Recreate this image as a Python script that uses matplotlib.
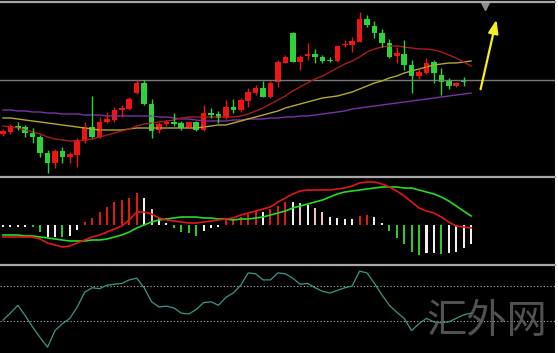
import numpy as np
import matplotlib
matplotlib.use("Agg")
import matplotlib.pyplot as plt
from matplotlib.lines import Line2D
from matplotlib.patches import Rectangle

plt.rcParams["font.family"] = ["Noto Sans CJK SC", "DejaVu Sans"]

# ---- candles (price units, bottom of panel = 0) ----
opens = [43, 45, 51, 50, 44, 40, 24, 14, 26, 20, 22, 36, 50, 40, 55, 57, 67, 68, 84, 94,
         73, 47, 53, 55, 54, 49, 55, 47, 64, 63, 59, 70, 67, 76, 84, 89, 80, 95, 114, 144,
         115, 121, 123, 120, 117, 116, 132, 132, 135, 158, 151, 144, 134, 121, 123, 112, 101, 104, 115, 102,
         96, 91, 97, 96]
closes = [46, 51, 49, 44, 40, 24, 14, 26, 20, 23, 37, 50, 40, 55, 58, 67, 69, 78, 94, 73,
          46, 53, 55, 53, 49, 55, 47, 64, 62, 59, 70, 67, 77, 85, 89, 80, 94, 115, 120, 115,
          120, 123, 120, 116, 116, 131, 133, 136, 158, 152, 144, 134, 120, 124, 112, 101, 105, 114, 104, 95,
          91, 94, 95, 97]
highs = [48, 53, 55, 52, 49, 42, 27, 28, 30, 25, 39, 55, 81, 60, 65, 70, 72, 80, 97, 97,
         78, 55, 57, 64, 56, 56, 56, 72, 69, 66, 77, 78, 79, 89, 92, 96, 96, 117, 122, 145,
         122, 134, 128, 122, 120, 132, 137, 140, 165, 162, 156, 148, 138, 130, 137, 117, 109, 119, 117, 109,
         99, 95, 100, 97]
lows = [41, 43, 47, 40, 34, 20, 4, 9, 14, 14, 10, 34, 39, 39, 54, 55, 60, 67, 83, 72,
        39, 44, 51, 51, 47, 48, 46, 46, 59, 54, 58, 64, 65, 70, 82, 80, 79, 90, 114, 115,
        107, 117, 114, 114, 115, 115, 130, 125, 135, 150, 139, 130, 119, 114, 107, 84, 98, 103, 94, 82,
        88, 90, 91, 96]

ma_short = [51, 50, 49, 47, 45, 43, 40, 38, 37, 36, 36, 37, 38, 40, 42, 44, 46, 48, 51, 53,
            54, 55, 56, 57, 59, 60, 60, 60, 60, 60, 60, 60, 61, 63, 66, 69, 73, 77, 81, 86,
            90, 94, 98, 101, 105, 109, 113, 116, 120, 125, 128, 130, 131, 131, 130, 129, 128, 128, 127, 125,
            122, 119, 115, 111]
ma_mid = [59, 59, 58, 57, 56, 55, 54, 53, 52, 51, 50, 49, 48, 47, 47, 47, 47, 48, 49, 49,
          49, 49, 49, 49, 49, 49, 49, 50, 51, 52, 52, 54, 56, 58, 60, 62, 64, 66, 69, 71,
          73, 75, 77, 79, 80, 81, 83, 85, 88, 91, 94, 96, 99, 101, 104, 106, 108, 110, 112, 113,
          114, 114, 115, 116]
ma_long = [67, 67, 66, 66, 65, 65, 64, 64, 63, 63, 63, 62, 62, 62, 61, 61, 61, 61, 61, 61,
           61, 60, 60, 59, 58, 58, 57, 56, 56, 56, 56, 57, 57, 58, 58, 58, 59, 59, 60, 60,
           61, 61, 62, 63, 64, 65, 66, 68, 69, 70, 71, 72, 73, 74, 75, 76, 77, 78, 79, 80,
           81, 82, 83, 84]
ref_level = 97

# ---- MACD ----
macd_hist = [-2, -2, -2, -2, -2, -7, -12, -12, -12, -11, -5, 3, 7, 13, 18, 23, 25, 27, 32, 27,
             16, 7, 2, -3, -7, -8, -11, -6, -3, -2, 6, 5, 8, 11, 14, 13, 16, 19, 23, 23,
             22, 20, 17, 13, 8, 7, 6, 6, 9, 10, 8, 2, -6, -13, -19, -27, -30, -28, -28, -29,
             -28, -27, -23, -19]
hist_kind = list("wwwwggwwgwwrrrrrrrrwpwwggggwwwrrrrrwrrrwpwppwwwwrrwwgggggwwgwwww")
dif = [-12, -12, -12, -12, -12, -14, -18, -20, -22, -21, -18, -15, -12, -10, -7, -4, -1, 5, 13, 13,
       11, 7, 5, 4, 3, 2, 2, 3, 4, 5, 6, 7, 10, 12, 14, 16, 18, 23, 27, 31,
       34, 35, 35, 35, 35, 36, 37, 39, 42, 43, 43, 41, 38, 34, 29, 23, 17, 14, 12, 8,
       3, -1, -2, -3]
dea = [-10, -10, -10, -11, -11, -12, -13, -14, -15, -16, -16, -16, -15, -15, -14, -12, -10, -7, -3, 0,
       3, 5, 6, 7, 8, 8, 8, 7, 7, 6, 6, 5, 6, 6, 7, 8, 10, 12, 14, 17,
       19, 21, 23, 25, 28, 31, 33, 34, 35, 36, 37, 38, 38, 38, 37, 37, 35, 33, 31, 28,
       24, 19, 14, 9]

# ---- oscillator ----
osc = [31, 39, 48, 36, 23, 11, 0, 19, 27, 33, 46, 63, 68, 67, 71, 72, 73, 77, 79, 68,
       52, 46, 47, 45, 39, 38, 43, 51, 52, 48, 57, 62, 71, 85, 84, 77, 77, 85, 84, 79,
       72, 73, 68, 64, 62, 65, 68, 70, 87, 85, 73, 60, 48, 40, 33, 19, 27, 33, 29, 28,
       29, 33, 37, 39]
osc_levels = [70, 30]

UP = "#ee1515"
DOWN = "#2fd23a"
HIST_COLORS = {"r": "#e01818", "g": "#2ec83a", "w": "#f0f0f0", "p": "#f0c4c4"}
W, H = 558, 353
X_RIGHT = 555

fig = plt.figure(figsize=(W / 100, H / 100), dpi=100, facecolor="black")
fig.add_artist(Rectangle((X_RIGHT / W, 0), 1 - X_RIGHT / W, 1, transform=fig.transFigure,
                         facecolor="white", edgecolor="none"))


def panel(top, bottom):
    ax = fig.add_axes([0, 1 - bottom / H, X_RIGHT / W, (bottom - top) / H])
    ax.set_facecolor("black")
    ax.set_xticks([])
    ax.set_yticks([])
    for s in ax.spines.values():
        s.set_visible(False)
    ax.set_xlim(-0.4, 74.3)
    return ax


x = np.arange(len(opens))

# main price panel
ax = panel(3, 177)
ax.set_ylim(0, 174)
ax.axhline(ref_level, color="#7a7a7a", lw=1.0)
ax.plot(x, ma_long, color="#7a32a8", lw=1.0)
ax.plot(x, ma_mid, color="#b4aa2a", lw=1.0)
ax.plot(x, ma_short, color="#a81c1c", lw=1.0)
o, c = np.array(opens), np.array(closes)
cols = [UP if cc >= oo else DOWN for oo, cc in zip(o, c)]
ax.vlines(x, lows, highs, colors=cols, lw=1.0)
body = np.maximum(np.abs(c - o), 1.2)
ax.bar(x, body, bottom=np.minimum(o, c), width=0.75, color=cols, edgecolor="none")
ax.annotate("", xy=(66.5, 160), xytext=(64.2, 85),
            arrowprops=dict(arrowstyle="-|>,head_width=0.3,head_length=0.8",
                            color="#f4f020", lw=1.6))
ax.plot([64.9], [171], marker="v", color="#8c8c8c", markersize=6, clip_on=False)

# MACD panel
ax2 = panel(178, 264)
ax2.set_ylim(-39, 47)
ax2.bar(x, macd_hist, width=0.28, color=[HIST_COLORS[k] for k in hist_kind], edgecolor="none")
ax2.plot(x, dea, color="#22dd22", lw=1.2)
ax2.plot(x, dif, color="#e01818", lw=1.2)

# oscillator panel
ax3 = panel(266, 353)
ax3.set_ylim(-6.6, 92.9)
for lv in osc_levels:
    ax3.axhline(lv, color="#b4b4b4", lw=0.8, ls=(0, (1, 2)))
ax3.plot(x, osc, color="#3a9888", lw=0.9)
fig.text(487 / W, 1 - 322 / H, "汇外网", fontsize=29, color="#606060", alpha=0.85,
         ha="center", va="center", fontweight="light")

# separator lines
for yy in (2, 177, 265):
    fig.add_artist(Line2D([0, X_RIGHT / W], [1 - yy / H] * 2, color="#a8a8a8", lw=1.6))

fig.savefig("out.png", dpi=100, facecolor=fig.get_facecolor())
